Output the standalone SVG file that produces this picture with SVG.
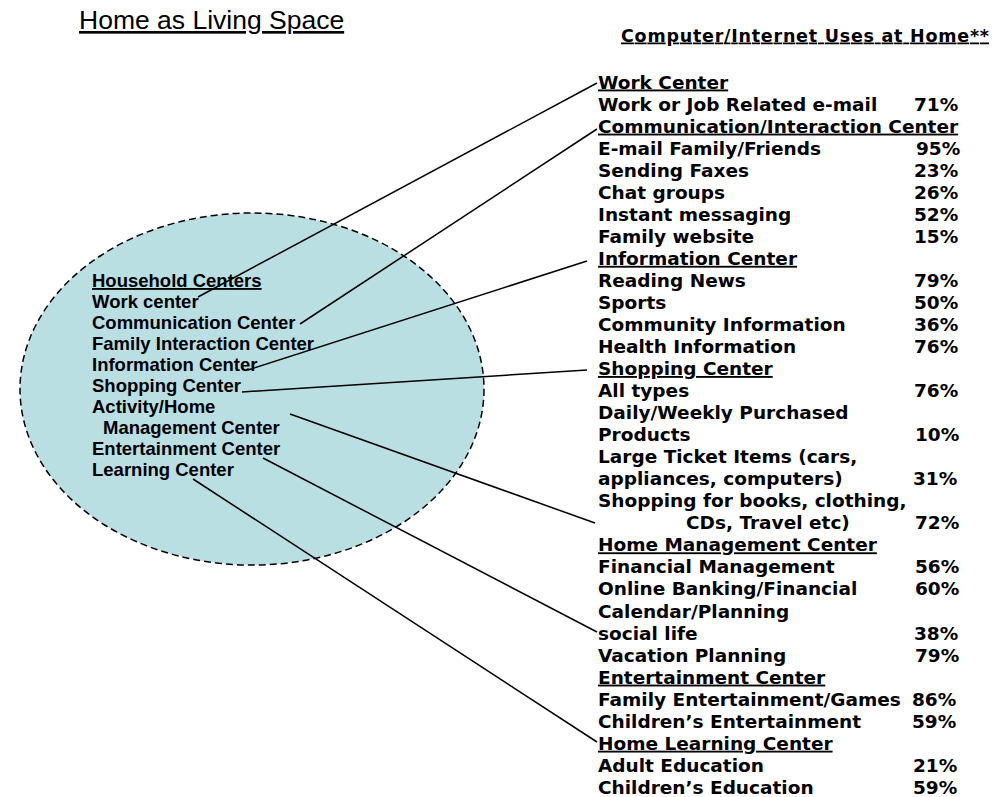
<svg xmlns="http://www.w3.org/2000/svg" width="1003" height="797" viewBox="0 0 1003 797">
<style>
  .title { font-family: "Liberation Sans", Arial, sans-serif; font-size: 26.5px; fill: #000; text-decoration: underline; }
  .lt { font-family: "Liberation Sans", Arial, sans-serif; font-size: 18.5px; font-weight: bold; fill: #000; }
  .rt { font-family: "DejaVu Sans", Verdana, sans-serif; font-size: 18.5px; font-weight: bold; fill: #000; }
  .hd { font-family: "DejaVu Sans", Verdana, sans-serif; font-size: 17.5px; font-weight: bold; fill: #000; text-decoration: underline; }
  .u { text-decoration: underline; }
  .conn { stroke: #000; stroke-width: 1.5; fill: none; }
</style>
<rect x="0" y="0" width="1003" height="797" fill="#fff"/>

<text class="title" x="79" y="29">Home as Living Space</text>
<text class="hd" x="621" y="41.5" textLength="368" lengthAdjust="spacing">Computer/Internet Uses at Home**</text>

<g id="household-centers">
  <ellipse cx="252" cy="389" rx="232" ry="176" fill="#b9dfe3" stroke="#000" stroke-width="1.5" stroke-dasharray="7,4"/>
  <text class="lt u" x="92" y="287">Household Centers</text>
  <text class="lt" x="92" y="308">Work center</text>
  <text class="lt" x="92" y="329">Communication Center</text>
  <text class="lt" x="92" y="350">Family Interaction Center</text>
  <text class="lt" x="92" y="371">Information Center</text>
  <text class="lt" x="92" y="392">Shopping Center</text>
  <text class="lt" x="92" y="413">Activity/Home</text>
  <text class="lt" x="103" y="434">Management Center</text>
  <text class="lt" x="92" y="455">Entertainment Center</text>
  <text class="lt" x="92" y="476">Learning Center</text>
</g>

<g id="work-center">
  <text class="rt u" x="598" y="88.5">Work Center</text>
  <text class="rt" x="598" y="110.5">Work or Job Related e-mail</text>
  <text class="rt" x="914" y="110.5">71%</text>
</g>

<g id="communication-center">
  <text class="rt u" x="598" y="132.6">Communication/Interaction Center</text>
  <text class="rt" x="598" y="154.6">E-mail Family/Friends</text>
  <text class="rt" x="916" y="154.6">95%</text>
  <text class="rt" x="598" y="176.7">Sending Faxes</text>
  <text class="rt" x="914" y="176.7">23%</text>
  <text class="rt" x="598" y="198.7">Chat groups</text>
  <text class="rt" x="914" y="198.7">26%</text>
  <text class="rt" x="598" y="220.7">Instant messaging</text>
  <text class="rt" x="914" y="220.7">52%</text>
  <text class="rt" x="598" y="242.8">Family website</text>
  <text class="rt" x="914" y="242.8">15%</text>
</g>

<g id="information-center">
  <text class="rt u" x="598" y="264.8">Information Center</text>
  <text class="rt" x="598" y="286.9">Reading News</text>
  <text class="rt" x="914" y="286.9">79%</text>
  <text class="rt" x="598" y="308.9">Sports</text>
  <text class="rt" x="914" y="308.9">50%</text>
  <text class="rt" x="598" y="330.9">Community Information</text>
  <text class="rt" x="914" y="330.9">36%</text>
  <text class="rt" x="598" y="353">Health Information</text>
  <text class="rt" x="914" y="353">76%</text>
</g>

<g id="shopping-center">
  <text class="rt u" x="598" y="375">Shopping Center</text>
  <text class="rt" x="598" y="397.1">All types</text>
  <text class="rt" x="914" y="397.1">76%</text>
  <text class="rt" x="598" y="419.1">Daily/Weekly Purchased</text>
  <text class="rt" x="598" y="441.1">Products</text>
  <text class="rt" x="915" y="441.1">10%</text>
  <text class="rt" x="598" y="463.2">Large Ticket Items (cars,</text>
  <text class="rt" x="598" y="485.2">appliances, computers)</text>
  <text class="rt" x="913" y="485.2">31%</text>
  <text class="rt" x="598" y="507.3">Shopping for books, clothing,</text>
  <text class="rt" x="686" y="529.3">CDs, Travel etc)</text>
  <text class="rt" x="915" y="529.3">72%</text>
</g>

<g id="home-management-center">
  <text class="rt u" x="598" y="551.3">Home Management Center</text>
  <text class="rt" x="598" y="573.4">Financial Management</text>
  <text class="rt" x="915" y="573.4">56%</text>
  <text class="rt" x="598" y="595.4">Online Banking/Financial</text>
  <text class="rt" x="915" y="595.4">60%</text>
  <text class="rt" x="598" y="617.5">Calendar/Planning</text>
  <text class="rt" x="598" y="639.5">social life</text>
  <text class="rt" x="914" y="639.5">38%</text>
  <text class="rt" x="598" y="661.5">Vacation Planning</text>
  <text class="rt" x="915" y="661.5">79%</text>
</g>

<g id="entertainment-center">
  <text class="rt u" x="598" y="683.6">Entertainment Center</text>
  <text class="rt" x="598" y="705.6">Family Entertainment/Games</text>
  <text class="rt" x="912" y="705.6">86%</text>
  <text class="rt" x="598" y="727.7">Children’s Entertainment</text>
  <text class="rt" x="912" y="727.7">59%</text>
</g>

<g id="home-learning-center">
  <text class="rt u" x="598" y="749.7">Home Learning Center</text>
  <text class="rt" x="598" y="771.7">Adult Education</text>
  <text class="rt" x="913" y="771.7">21%</text>
  <text class="rt" x="598" y="793.8">Children’s Education</text>
  <text class="rt" x="913" y="793.8">59%</text>
</g>

<g id="connectors">
  <line class="conn" x1="198" y1="297" x2="597" y2="83"/>
  <line class="conn" x1="300" y1="324" x2="597" y2="129"/>
  <line class="conn" x1="248" y1="370" x2="587" y2="261"/>
  <line class="conn" x1="242" y1="392" x2="587" y2="370"/>
  <line class="conn" x1="290" y1="414" x2="595" y2="523"/>
  <line class="conn" x1="263" y1="458" x2="597" y2="632"/>
  <line class="conn" x1="193" y1="479" x2="597" y2="742"/>
</g>
</svg>
